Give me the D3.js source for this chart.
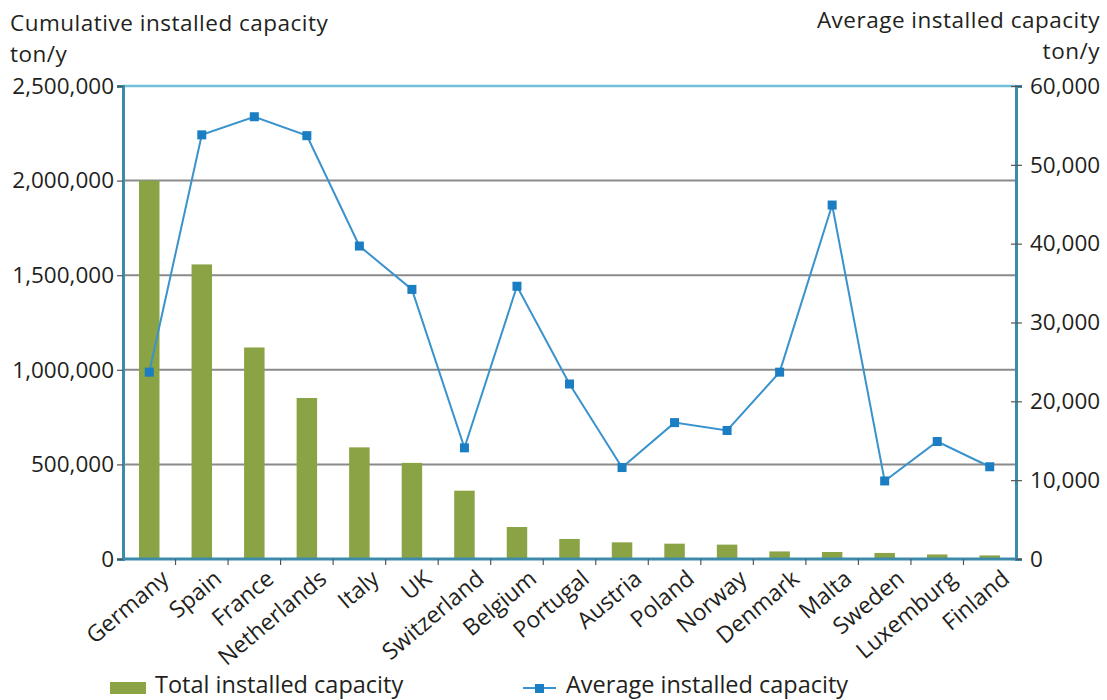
<!DOCTYPE html>
<html>
<head>
<meta charset="utf-8">
<script src="https://cdn.jsdelivr.net/npm/d3@7"></script>
<style>
  html, body { margin: 0; padding: 0; background: #fff; }
  svg { display: block; font-family: "Open Sans", "Noto Sans", sans-serif; }
</style>
</head>
<body>
<svg id="chart" width="1107" height="700"></svg>
<script>
// Composting capacity per country
const countries = ["Germany", "Spain", "France", "Netherlands", "Italy", "UK", "Switzerland",
  "Belgium", "Portugal", "Austria", "Poland", "Norway", "Denmark", "Malta", "Sweden",
  "Luxemburg", "Finland"];
const totalCapacity = [2000000, 1557000, 1118000, 851000, 590000, 508000, 361000,
  169000, 106000, 88000, 81000, 76000, 40000, 37000, 32000, 24000, 19000];
const averageCapacity = [23700, 53800, 56100, 53700, 39700, 34200, 14100,
  34600, 22200, 11600, 17300, 16300, 23700, 44900, 9900, 14900, 11700];
const leftTicks = [0, 500000, 1000000, 1500000, 2000000, 2500000];
const rightTicks = [0, 10000, 20000, 30000, 40000, 50000, 60000];

const svg = d3.select("#chart");
const margin = { left: 123, right: 1016, top: 86, bottom: 559 };
const fmt = d3.format(",");

const x = d3.scaleBand().domain(countries).range([margin.left, margin.right]).padding(0);
const yL = d3.scaleLinear().domain([0, 2500000]).range([margin.bottom, margin.top]);
const yR = d3.scaleLinear().domain([0, 60000]).range([margin.bottom, margin.top]);

const textColor = "#231f20";
const axisBlue = "#3d8bab";
const tickFont = 22.5;
const labelFont = 23;

// Horizontal gridlines on the left-axis ticks
svg.append("g").selectAll("line")
  .data(leftTicks.filter(d => d > 0 && d < 2500000))
  .join("line")
  .attr("x1", margin.left).attr("x2", margin.right)
  .attr("y1", d => yL(d)).attr("y2", d => yL(d))
  .attr("stroke", "#8a8a8a").attr("stroke-width", 2);

// Top border of the plot
svg.append("line")
  .attr("x1", margin.left).attr("x2", margin.right)
  .attr("y1", yL(2500000)).attr("y2", yL(2500000))
  .attr("stroke", "#74c0d8").attr("stroke-width", 2.5);

// Bars: total installed capacity
const barW = x.bandwidth() * 0.39;
svg.append("g").selectAll("rect")
  .data(countries)
  .join("rect")
  .attr("x", (d) => x(d) + x.bandwidth() / 2 - barW / 2)
  .attr("width", barW)
  .attr("y", (d, i) => yL(totalCapacity[i]))
  .attr("height", (d, i) => yL(0) - yL(totalCapacity[i]))
  .attr("fill", "#8aa345");

// Left axis
const leftAxis = svg.append("g")
  .attr("transform", `translate(${margin.left},0)`)
  .call(d3.axisLeft(yL).tickValues(leftTicks).tickFormat(fmt).tickSize(6).tickPadding(3));
leftAxis.select(".domain").attr("stroke", axisBlue).attr("stroke-width", 3);
leftAxis.selectAll(".tick line").attr("stroke", "#555").attr("stroke-width", 1.2);
leftAxis.selectAll(".tick text")
  .attr("font-size", tickFont).attr("fill", textColor)
  .attr("font-family", "'Open Sans', 'Noto Sans', sans-serif");

// Right axis
const rightAxis = svg.append("g")
  .attr("transform", `translate(${margin.right},0)`)
  .call(d3.axisRight(yR).tickValues(rightTicks).tickFormat(fmt).tickSize(6).tickPadding(8));
rightAxis.select(".domain").attr("stroke", axisBlue).attr("stroke-width", 3);
rightAxis.selectAll(".tick line").attr("x1", -5).attr("stroke", "#555").attr("stroke-width", 1.2);
rightAxis.selectAll(".tick text")
  .attr("font-size", tickFont).attr("fill", textColor)
  .attr("font-family", "'Open Sans', 'Noto Sans', sans-serif");

// Bottom axis with tick marks between categories
const bottom = svg.append("g");
bottom.append("line")
  .attr("x1", margin.left).attr("x2", margin.right)
  .attr("y1", margin.bottom).attr("y2", margin.bottom)
  .attr("stroke", axisBlue).attr("stroke-width", 3);
bottom.selectAll("line.sep")
  .data(countries.slice(1))
  .join("line")
  .attr("class", "sep")
  .attr("x1", d => x(d)).attr("x2", d => x(d))
  .attr("y1", margin.bottom).attr("y2", margin.bottom + 6)
  .attr("stroke", "#555").attr("stroke-width", 1.2);
bottom.selectAll("text")
  .data(countries)
  .join("text")
  .attr("transform", d => `translate(${x(d) + x.bandwidth() / 2 + 16},${margin.bottom + 16}) rotate(-40)`)
  .attr("text-anchor", "end")
  .attr("dy", "0.35em")
  .attr("font-size", labelFont)
  .attr("fill", textColor)
  .text(d => d);

// Line: average installed capacity
const lineColor = "#3a93cc";
const cx = d => x(d) + x.bandwidth() / 2;
svg.append("path")
  .datum(countries)
  .attr("fill", "none")
  .attr("stroke", lineColor)
  .attr("stroke-width", 2)
  .attr("d", d3.line().x(d => cx(d)).y((d, i) => yR(averageCapacity[i])));
svg.append("g").selectAll("rect")
  .data(countries)
  .join("rect")
  .attr("x", d => cx(d) - 4.5)
  .attr("y", (d, i) => yR(averageCapacity[i]) - 4.5)
  .attr("width", 9).attr("height", 9)
  .attr("fill", "#1b7dc2");

// Axis titles
const titles = svg.append("g").attr("font-size", 22.5).attr("letter-spacing", 0.5).attr("fill", textColor);
titles.append("text").attr("x", 10).attr("y", 31).text("Cumulative installed capacity");
titles.append("text").attr("x", 10).attr("y", 62).text("ton/y");
titles.append("text").attr("x", 1100).attr("y", 28).attr("text-anchor", "end").text("Average installed capacity");
titles.append("text").attr("x", 1100).attr("y", 59).attr("text-anchor", "end").text("ton/y");

// Legend
const legend = svg.append("g").attr("font-size", labelFont + 0.5).attr("fill", textColor);
legend.append("rect").attr("x", 110).attr("y", 682).attr("width", 36).attr("height", 12).attr("fill", "#8aa345");
legend.append("text").attr("x", 155).attr("y", 693).text("Total installed capacity");
legend.append("line").attr("x1", 523).attr("x2", 556).attr("y1", 688).attr("y2", 688)
  .attr("stroke", lineColor).attr("stroke-width", 2);
legend.append("rect").attr("x", 535).attr("y", 684).attr("width", 9).attr("height", 9).attr("fill", "#1b7dc2");
legend.append("text").attr("x", 566).attr("y", 693).text("Average installed capacity");
</script>
</body>
</html>
